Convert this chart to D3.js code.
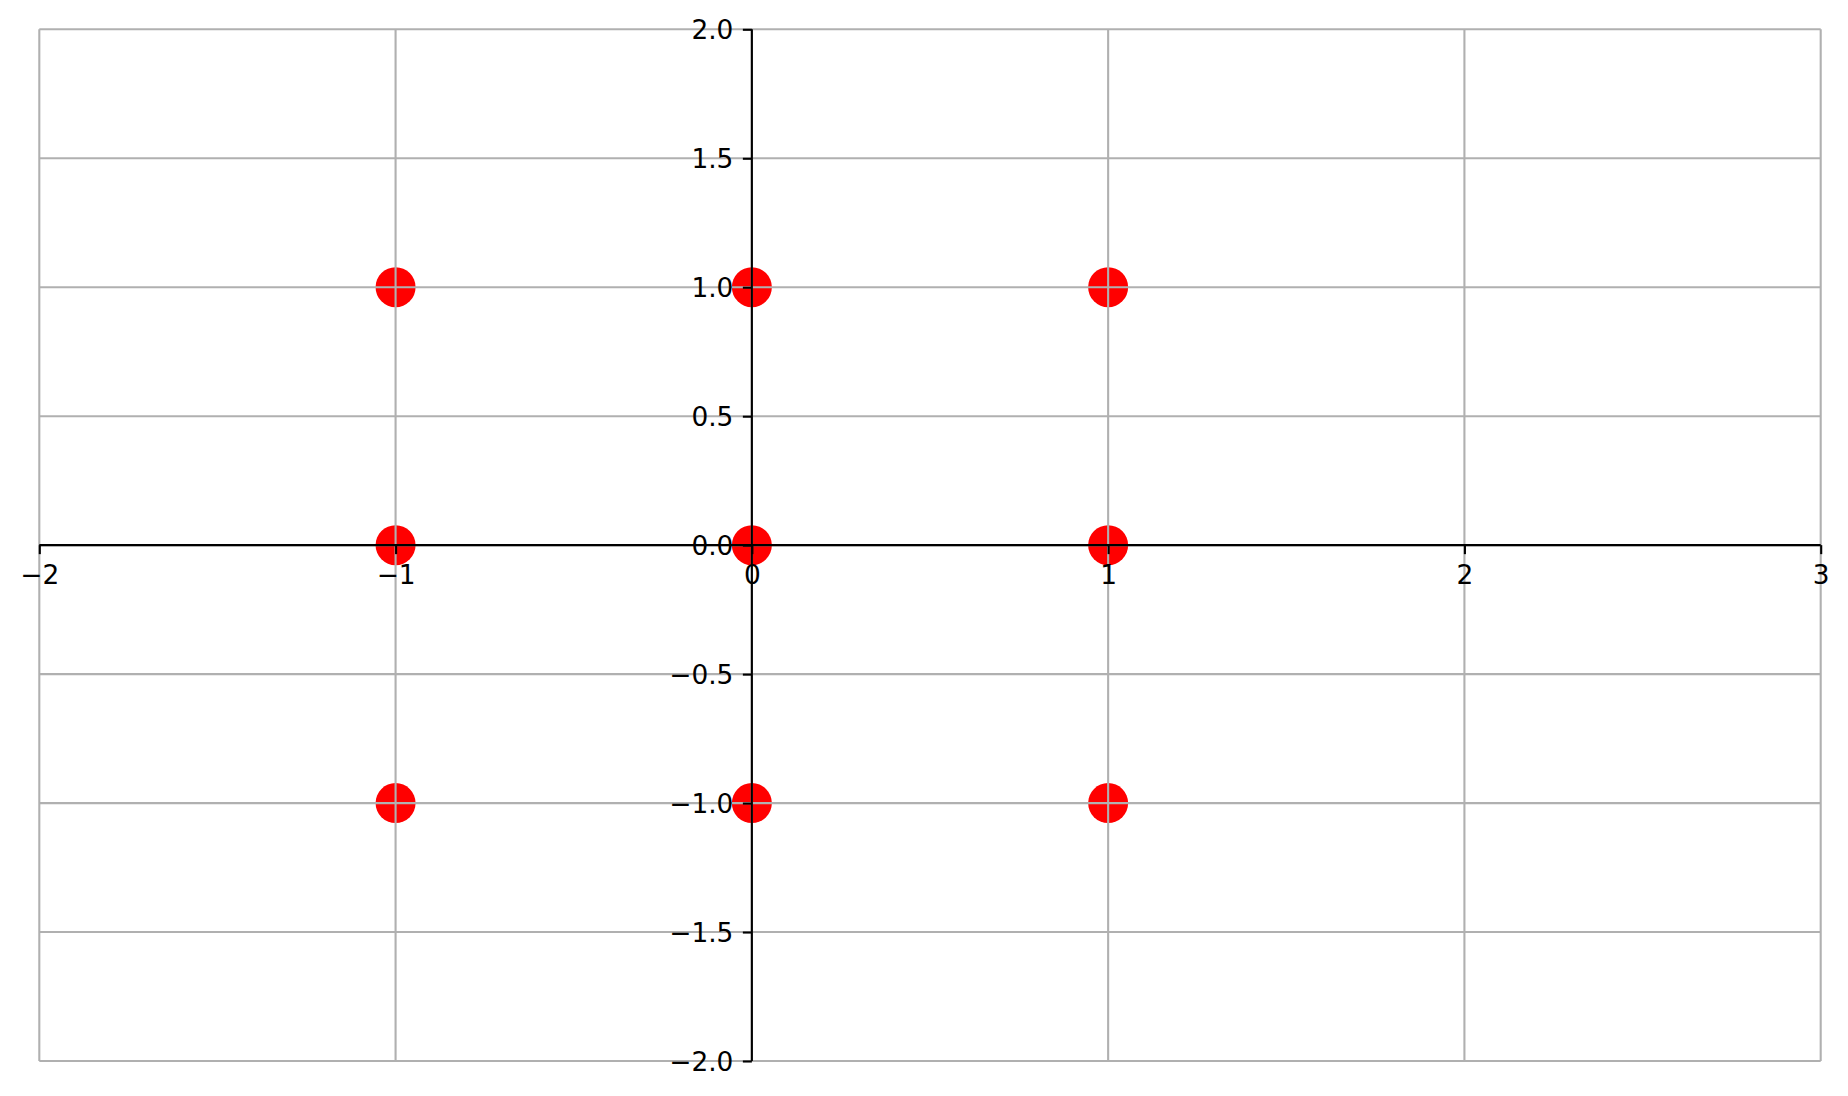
<!DOCTYPE html>
<html><head><meta charset="utf-8">
<script src="https://cdn.jsdelivr.net/npm/d3@7"></script>
<style>body{margin:0;background:#fff}svg{display:block}</style>
</head><body>
<svg id="c" width="1848" height="1096"></svg>
<script>
const xs = [-1, 0, 1, -1, 0, 1, -1, 0, 1];
const ys = [1, 1, 1, 0, 0, 0, -1, -1, -1];
const xTicks = [-2, -1, 0, 1, 2, 3];
const yTicks = [-2, -1.5, -1, -0.5, 0, 0.5, 1, 1.5, 2];

const svg = d3.select("#c");
const x = d3.scaleLinear().domain([-2, 3]).range([39.3, 1820.7]);
const y = d3.scaleLinear().domain([-2, 2]).range([1061, 29.3]);
const font = "DejaVu Sans";
const fs = 26.4;
const minus = s => s.replace("-", "\u2212");

// points
svg.append("g").selectAll("circle").data(xs).join("circle")
  .attr("cx", (d, i) => x(xs[i])).attr("cy", (d, i) => y(ys[i]))
  .attr("r", 20).attr("fill", "#ff0000");

// grid
const g = svg.append("g");
g.selectAll("line.gx").data(xTicks).join("line")
  .attr("x1", d => x(d)).attr("x2", d => x(d)).attr("y1", y(-2)).attr("y2", y(2))
  .attr("stroke", "#b0b0b0").attr("stroke-width", 2.1);
g.selectAll("line.gy").data(yTicks).join("line")
  .attr("y1", d => y(d)).attr("y2", d => y(d)).attr("x1", x(-2)).attr("x2", x(3))
  .attr("stroke", "#b0b0b0").attr("stroke-width", 2.1);

// x axis at y=0
const xAxis = d3.axisBottom(x).tickValues(xTicks).tickSize(9).tickPadding(9.5)
  .tickFormat(d => minus(d3.format("d")(d)));
const gx = svg.append("g").attr("transform", `translate(0,${y(0)})`).call(xAxis);
gx.select(".domain").attr("d", `M${x(-2)},0H${x(3)}`).attr("stroke", "#000").attr("stroke-width", 2.1);
gx.selectAll(".tick line").attr("stroke", "#000").attr("stroke-width", 2.1);
gx.selectAll(".tick text").attr("font-family", font).attr("font-size", fs).attr("fill", "#000").attr("dy", "0.76em");

// y axis at x=0
const yAxis = d3.axisLeft(y).tickValues(yTicks).tickSize(9).tickPadding(9.5)
  .tickFormat(d => minus(d3.format(".1f")(d)));
const gy = svg.append("g").attr("transform", `translate(${x(0)},0)`).call(yAxis);
gy.select(".domain").attr("d", `M0,${y(-2)}V${y(2)}`).attr("stroke", "#000").attr("stroke-width", 2.1);
gy.selectAll(".tick line").attr("stroke", "#000").attr("stroke-width", 2.1);
gy.selectAll(".tick text").attr("font-family", font).attr("font-size", fs).attr("fill", "#000").attr("dy", "0.36em");
</script>
</body></html>
